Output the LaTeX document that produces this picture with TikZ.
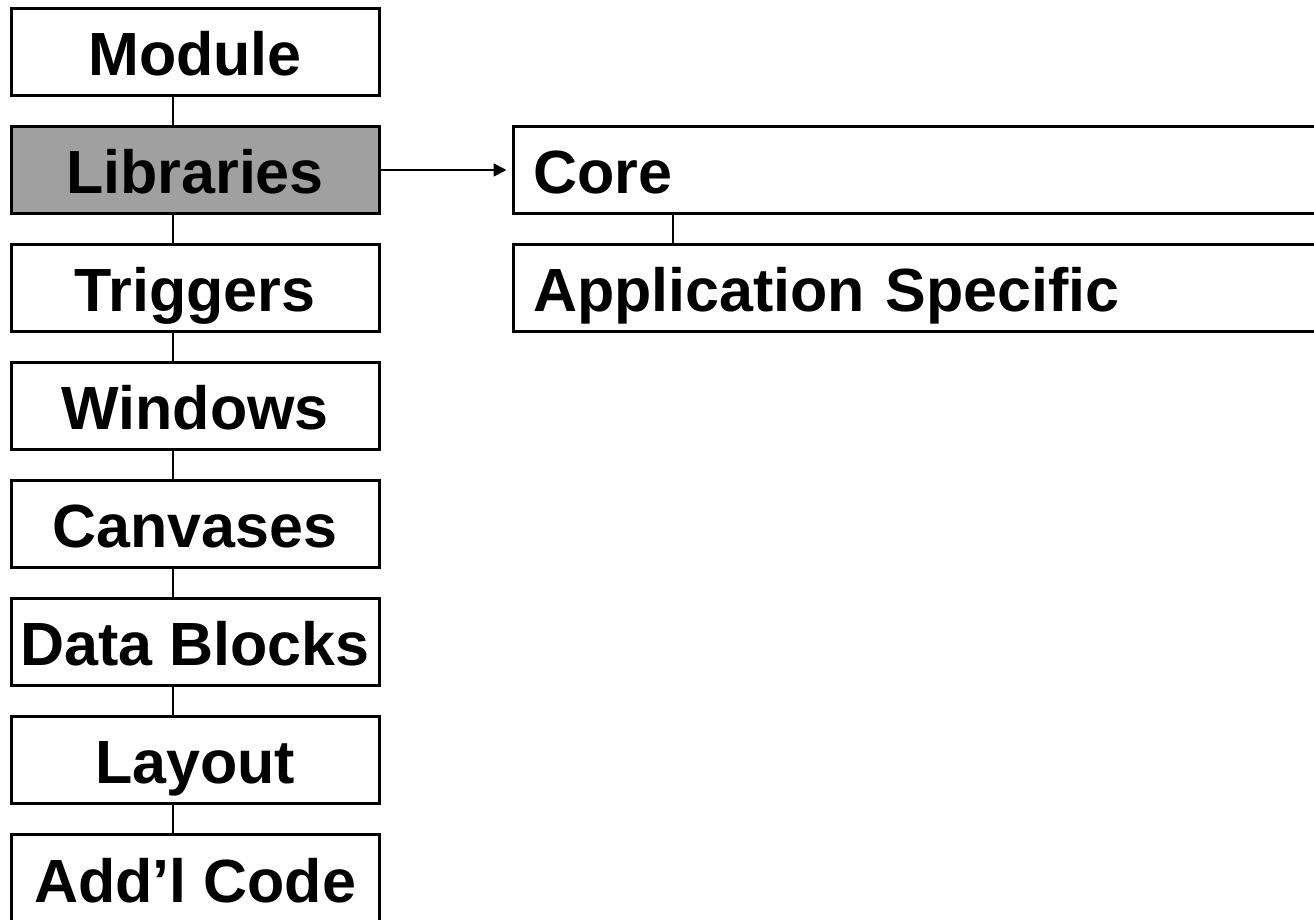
\documentclass[tikz,border=0pt]{standalone}
\usepackage{fontspec}
\setmainfont{Liberation Sans}
\usetikzlibrary{arrows.meta}
\definecolor{boxgray}{HTML}{A0A0A0}
\begin{document}
\begin{tikzpicture}[x=1pt,y=-1pt,
  font=\fontsize{61}{61}\selectfont\bfseries,
  leftbox/.style={draw=black,line width=3pt,fill=white,rectangle,inner sep=0pt,
    minimum width=368pt,minimum height=87.5pt,text height=67.5pt,text depth=20pt},
  rightbox/.style={draw=black,line width=3pt,fill=white,rectangle,inner xsep=20pt,inner ysep=0pt,
    text width=777pt,align=left,minimum height=87.5pt,text height=67.5pt,text depth=20pt},
  link/.style={draw=black,line width=1.7pt}]
\useasboundingbox (0,0) rectangle (1314,919);
\begin{scope}
\clip (0,0) rectangle (1314,919);
\coordinate (spine) at (173,0);
\coordinate (rspine) at (673,0);
\node[leftbox] (m1) at (195,52.05) {Module};
\node[leftbox,fill=boxgray] (m2) at (195,170.0) {Libraries};
\node[leftbox] (m3) at (195,288.0) {Triggers};
\node[leftbox] (m4) at (195,406.0) {Windows};
\node[leftbox] (m5) at (195,524.0) {Canvases};
\node[leftbox] (m6) at (195,642.0) {Data Blocks};
\node[leftbox] (m7) at (195,760.0) {Layout};
\node[leftbox] (m8) at (195,878.5) {Add’l Code};
\node[rightbox] (core) at (921.5,170.0) {Core};
\node[rightbox] (app) at (921.5,288.0) {Application Specific};
\foreach \a/\b in {m1/m2,m2/m3,m3/m4,m4/m5,m5/m6,m6/m7,m7/m8}{
  \draw[link] (\a.south -| spine) -- (\b.north -| spine);
}
\draw[link] (core.south -| rspine) -- (app.north -| rspine);
\draw[link,-{Triangle[length=13pt,width=13pt]},shorten >=5pt] (m2.east) -- (core.west);
\end{scope}
\end{tikzpicture}
\end{document}
